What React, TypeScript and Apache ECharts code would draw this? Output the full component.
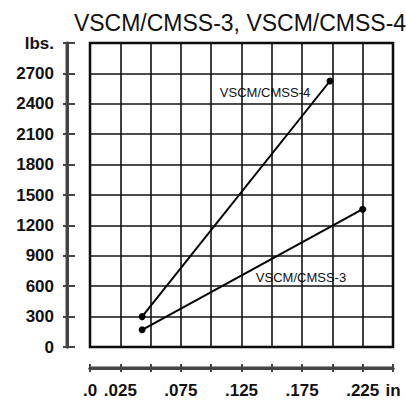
import React, { useEffect, useRef } from "react";
import * as echarts from "echarts";

const title = "VSCM/CMSS-3, VSCM/CMSS-4";
const xTickLabels = [".0", ".025", "", ".075", "", ".125", "", ".175", "", ".225", "in"];
const yTickLabels = ["0", "300", "600", "900", "1200", "1500", "1800", "2100", "2400", "2700", "lbs."];
const seriesNames = ["VSCM/CMSS-4", "VSCM/CMSS-3"];
const cmss4 = [[0.043, 300], [0.198, 2625]];
const cmss3 = [[0.043, 170], [0.225, 1360]];
const xMin = 0, xMax = 0.25, xStep = 0.025;
const yMin = 0, yMax = 3000, yStep = 300;

export default function App() {
  const ref = useRef<HTMLDivElement>(null);
  useEffect(() => {
    const chart = echarts.init(ref.current!, null, { renderer: "svg" });
    const axisColor = "#444";
    const gridColor = "#111";
    const font = "Liberation Sans, Arial, sans-serif";
    const gridBox = { left: 90, right: 13, top: 43, bottom: 58 };
    const xOffset = 21, yOffset = 23;
    chart.setOption({
      animation: false,
      title: {
        text: title,
        left: 235,
        top: 6,
        textAlign: "center",
        textStyle: { fontFamily: font, fontWeight: "normal", fontSize: 23, color: "#111" },
      },
      grid: [
        { ...gridBox, show: true, borderColor: "#000", borderWidth: 2.5 },
        { ...gridBox },
      ],
      xAxis: [
        {
          type: "value", gridIndex: 0, min: xMin, max: xMax, interval: xStep, position: "bottom", offset: xOffset,
          axisLine: { show: true, onZero: false, lineStyle: { color: axisColor, width: 3 } },
          axisTick: { show: true, length: 4, lineStyle: { color: axisColor, width: 2 } },
          axisLabel: {
            show: true, margin: 14, fontFamily: font, fontWeight: "bold", fontSize: 17, color: "#111",
            formatter: (v: number) => xTickLabels[Math.round(v / xStep)] ?? "",
          },
          splitLine: { show: true, lineStyle: { color: gridColor, width: 1.6 } },
        },
        {
          type: "value", gridIndex: 1, min: xMin, max: xMax, interval: xStep, position: "bottom", offset: xOffset,
          axisLine: { show: true, onZero: false, lineStyle: { color: axisColor, width: 3 } },
          axisTick: { show: true, inside: true, length: 4, lineStyle: { color: axisColor, width: 2 } },
          axisLabel: { show: false },
          splitLine: { show: false },
        },
      ],
      yAxis: [
        {
          type: "value", gridIndex: 0, min: yMin, max: yMax, interval: yStep, position: "left", offset: yOffset,
          axisLine: { show: true, onZero: false, lineStyle: { color: axisColor, width: 3 } },
          axisTick: { show: true, length: 4, lineStyle: { color: axisColor, width: 2 } },
          axisLabel: {
            show: true, margin: 13, fontFamily: font, fontWeight: "bold", fontSize: 17, color: "#111",
            formatter: (v: number) => yTickLabels[Math.round(v / yStep)] ?? "",
          },
          splitLine: { show: true, lineStyle: { color: gridColor, width: 1.6 } },
        },
        {
          type: "value", gridIndex: 1, min: yMin, max: yMax, interval: yStep, position: "left", offset: yOffset,
          axisLine: { show: true, onZero: false, lineStyle: { color: axisColor, width: 3 } },
          axisTick: { show: true, inside: true, length: 8, lineStyle: { color: axisColor, width: 2 } },
          axisLabel: { show: false },
          splitLine: { show: false },
        },
      ],
      series: [
        {
          name: seriesNames[0], type: "line", xAxisIndex: 0, yAxisIndex: 0, data: cmss4,
          symbol: "circle", symbolSize: 7, itemStyle: { color: "#000" }, lineStyle: { color: "#000", width: 2 },
        },
        {
          name: seriesNames[1], type: "line", xAxisIndex: 0, yAxisIndex: 0, data: cmss3,
          symbol: "circle", symbolSize: 7, itemStyle: { color: "#000" }, lineStyle: { color: "#000", width: 2 },
        },
      ],
      graphic: [
        {
          type: "text", x: 265, y: 92,
          style: { text: seriesNames[0], fontFamily: font, fontSize: 13, fill: "#111", align: "center", verticalAlign: "middle", backgroundColor: "#fff" },
        },
        {
          type: "text", x: 301, y: 277,
          style: { text: seriesNames[1], fontFamily: font, fontSize: 13, fill: "#111", align: "center", verticalAlign: "middle", backgroundColor: "#fff" },
        },
      ],
    });
    const p0 = chart.convertToPixel({ gridIndex: 0 }, [xMin, yMin]) as number[];
    const p1 = chart.convertToPixel({ gridIndex: 0 }, [xMax, yMax]) as number[];
    if (p0 && p1) {
      chart.setOption({
        graphic: [
          {
            id: "yAxisLine", type: "line", z: 10,
            shape: { x1: p0[0] - yOffset, y1: p1[1], x2: p0[0] - yOffset, y2: p0[1] },
            style: { stroke: axisColor, lineWidth: 3 },
          },
          {
            id: "xAxisLine", type: "line", z: 10,
            shape: { x1: p0[0], y1: p0[1] + xOffset, x2: p1[0], y2: p0[1] + xOffset },
            style: { stroke: axisColor, lineWidth: 3 },
          },
        ],
      });
    }
    return () => chart.dispose();
  }, []);
  return <div ref={ref} style={{ position: "fixed", left: 0, top: 0, width: 406, height: 405, background: "#fff" }} />;
}
